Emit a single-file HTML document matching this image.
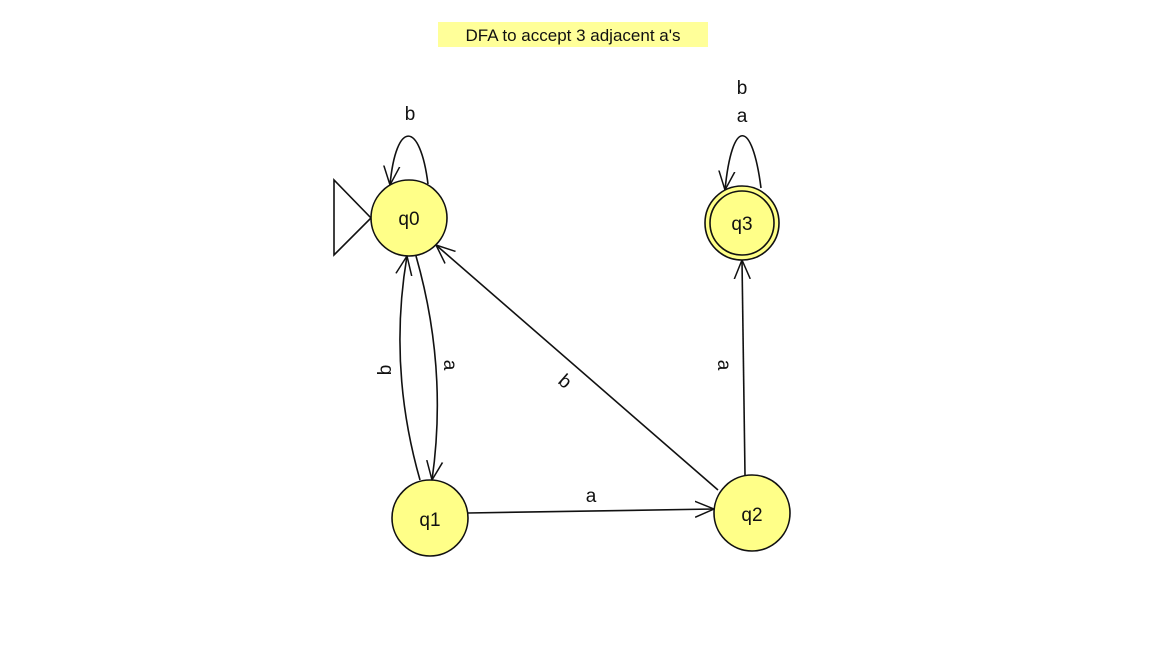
<!DOCTYPE html>
<html><head><meta charset="utf-8"><style>
body{margin:0;background:#fff;width:1151px;height:656px;overflow:hidden}
svg text{font-family:"Liberation Sans","DejaVu Sans",sans-serif;fill:#111}
</style></head><body>
<svg width="1151" height="656">
<defs><marker id="ah" viewBox="0 0 20 20" refX="19" refY="10" markerWidth="20" markerHeight="20" markerUnits="userSpaceOnUse" orient="auto"><path d="M0,2 L19,10 L0,18" fill="none" stroke="#111" stroke-width="1.5"/></marker></defs>
<rect x="438" y="22" width="270" height="25" fill="#ffff99"/>
<text x="573" y="41" font-size="17" text-anchor="middle">DFA to accept 3 adjacent a's</text>
<g stroke="#111" stroke-width="1.6" fill="none">
<polygon points="334,180 334,255 371,218"/>
<path d="M428,184 C420,120 396,120 390,185" marker-end="url(#ah)"/>
<path d="M761,188 C752,118 732,118 725,190" marker-end="url(#ah)"/>
<path d="M416,256 Q448,368 432,480" marker-end="url(#ah)"/>
<path d="M420,480 Q388,368 407,256" marker-end="url(#ah)"/>
<path d="M468,513 L714,509" marker-end="url(#ah)"/>
<path d="M718,490 L436,245" marker-end="url(#ah)"/>
<path d="M745,475 L742,260" marker-end="url(#ah)"/>
</g>
<g stroke="#111" stroke-width="1.6" fill="#ffff88">
<circle cx="409" cy="218" r="38"/>
<circle cx="430" cy="518" r="38"/>
<circle cx="752" cy="513" r="38"/>
<circle cx="742" cy="223" r="37"/>
<circle cx="742" cy="223" r="32" fill="none"/>
</g>
<g font-size="19" text-anchor="middle">
<text x="409" y="225">q0</text>
<text x="430" y="526">q1</text>
<text x="752" y="521">q2</text>
<text x="742" y="230">q3</text>
<text x="410" y="120">b</text>
<text x="742" y="94">b</text>
<text x="742" y="122">a</text>
<text x="591" y="502">a</text>
<text transform="translate(444,365) rotate(90)">a</text>
<text transform="translate(391,370) rotate(-90)">b</text>
<text transform="translate(561,386) rotate(41)">b</text>
<text transform="translate(718,365) rotate(90)">a</text>
</g>
</svg>
</body></html>
